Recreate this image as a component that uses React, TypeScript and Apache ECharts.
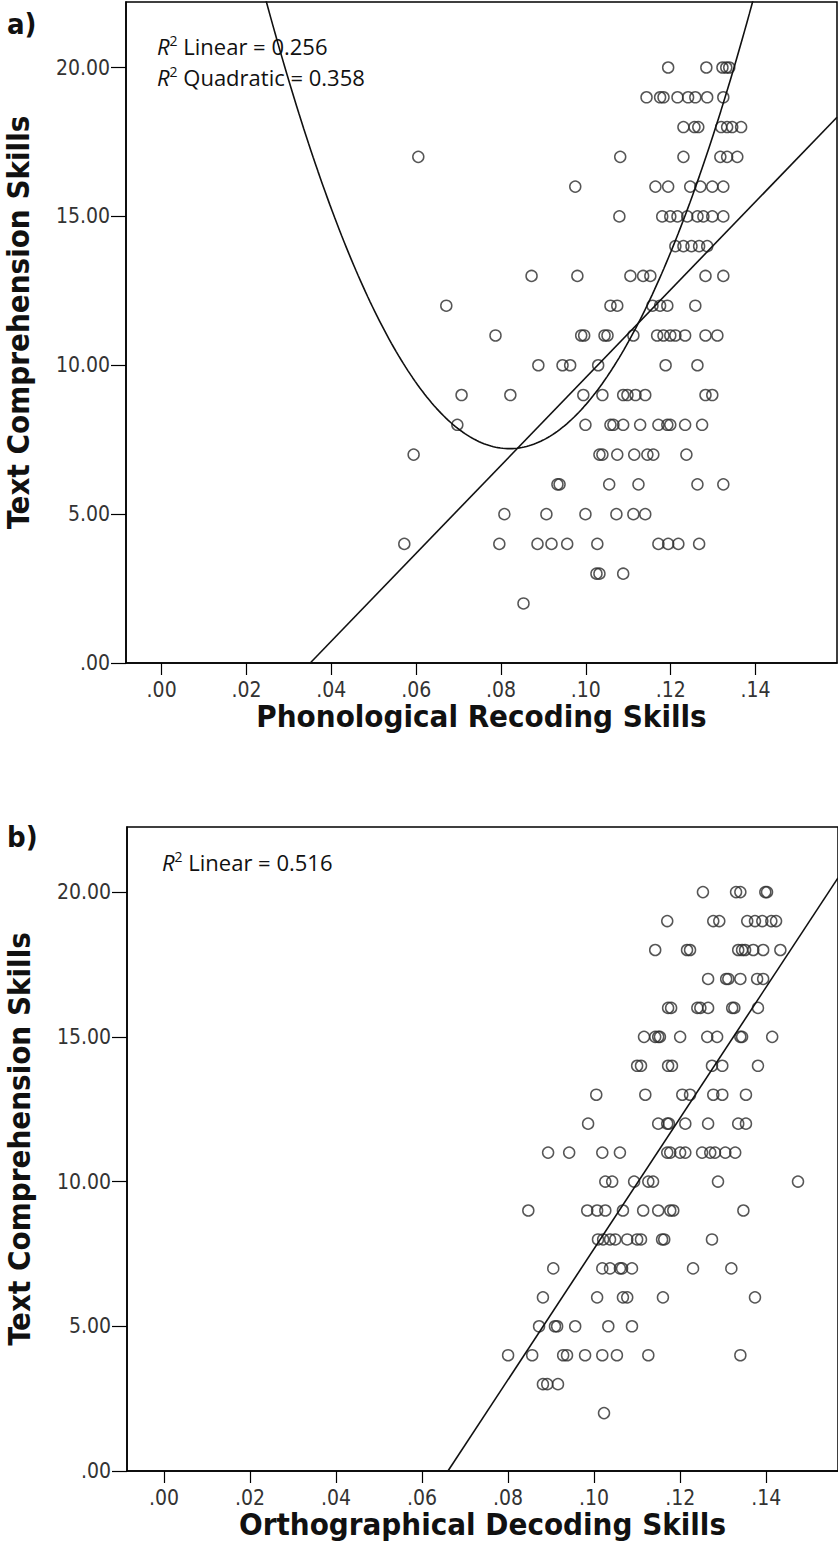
import React, { useEffect, useRef } from "react";
import * as echarts from "echarts";

const W = 838;
const H = 1557;

// Tick values and labels
const xTicks = [0, 0.02, 0.04, 0.06, 0.08, 0.1, 0.12, 0.14];
const yTicks = [0, 5, 10, 15, 20];

// Panel a) Phonological Recoding Skills vs Text Comprehension Skills, rows: [y, xs]
const phonRows: [number, number[]][] = [
  [20, [0.1194, 0.1284, 0.1322, 0.1331, 0.1338]],
  [19, [0.1143, 0.1175, 0.1183, 0.1216, 0.1241, 0.1258, 0.1286, 0.1324]],
  [18, [0.123, 0.1256, 0.1265, 0.1319, 0.1333, 0.1345, 0.1366]],
  [17, [0.0605, 0.1081, 0.123, 0.1317, 0.1333, 0.1357]],
  [16, [0.0975, 0.1164, 0.1194, 0.1246, 0.127, 0.1298, 0.1324]],
  [15, [0.1079, 0.118, 0.1199, 0.1216, 0.1239, 0.1263, 0.1277, 0.1298, 0.1324]],
  [14, [0.1211, 0.123, 0.1249, 0.1267, 0.1286]],
  [13, [0.0872, 0.098, 0.1105, 0.1135, 0.1152, 0.1282, 0.1324]],
  [12, [0.0671, 0.1058, 0.1074, 0.1157, 0.1175, 0.1192, 0.1258]],
  [11, [0.0787, 0.0989, 0.0996, 0.1044, 0.1051, 0.1112, 0.1168, 0.1183, 0.1199, 0.1211, 0.1234, 0.1282, 0.131]],
  [10, [0.0888, 0.0945, 0.0963, 0.1029, 0.1188, 0.1263]],
  [9, [0.0707, 0.0822, 0.0994, 0.1039, 0.1088, 0.1098, 0.1117, 0.114, 0.1282, 0.1298]],
  [8, [0.0697, 0.0999, 0.1058, 0.1065, 0.1088, 0.1128, 0.1171, 0.1192, 0.1199, 0.1234, 0.1274]],
  [7, [0.0594, 0.1032, 0.1039, 0.1074, 0.1114, 0.1145, 0.1159, 0.1237]],
  [6, [0.0933, 0.0938, 0.1055, 0.1124, 0.1263, 0.1324]],
  [5, [0.0808, 0.0907, 0.0999, 0.1072, 0.1112, 0.114]],
  [4, [0.0572, 0.0796, 0.0886, 0.0919, 0.0956, 0.1027, 0.1171, 0.1194, 0.1218, 0.1267]],
  [3, [0.1025, 0.1032, 0.1088]],
  [2, [0.0853]],
];

// Panel b) Orthographical Decoding Skills vs Text Comprehension Skills, rows: [y, xs]
const orthRows: [number, number[]][] = [
  [20, [0.1253, 0.133, 0.134, 0.1398, 0.1402]],
  [19, [0.117, 0.1277, 0.1291, 0.1356, 0.1374, 0.1391, 0.1412, 0.1423]],
  [18, [0.1142, 0.1216, 0.1223, 0.1335, 0.1344, 0.1351, 0.137, 0.1393, 0.1433]],
  [17, [0.1265, 0.1307, 0.1312, 0.134, 0.1379, 0.1393]],
  [16, [0.1172, 0.1179, 0.124, 0.1247, 0.1265, 0.1321, 0.1326, 0.1381]],
  [15, [0.1116, 0.1142, 0.1149, 0.1153, 0.12, 0.1263, 0.1286, 0.134, 0.1344, 0.1414]],
  [14, [0.11, 0.1109, 0.1172, 0.1181, 0.1274, 0.1298, 0.1381]],
  [13, [0.1005, 0.1119, 0.1205, 0.1223, 0.1277, 0.1298, 0.1353]],
  [12, [0.0986, 0.1149, 0.117, 0.1174, 0.1212, 0.1265, 0.1335, 0.1353]],
  [11, [0.0893, 0.0942, 0.1019, 0.106, 0.117, 0.1177, 0.12, 0.1212, 0.1251, 0.127, 0.1281, 0.1305, 0.1328]],
  [10, [0.1026, 0.1042, 0.1093, 0.1126, 0.1137, 0.1288, 0.1474]],
  [9, [0.0847, 0.0984, 0.1007, 0.1026, 0.1067, 0.1114, 0.1149, 0.1177, 0.1184, 0.1347]],
  [8, [0.1009, 0.1021, 0.1037, 0.1049, 0.1077, 0.11, 0.1109, 0.1158, 0.1163, 0.1274]],
  [7, [0.0905, 0.1019, 0.1037, 0.106, 0.1065, 0.1088, 0.123, 0.1319]],
  [6, [0.0881, 0.1007, 0.1067, 0.1077, 0.116, 0.1374]],
  [5, [0.0872, 0.0909, 0.0914, 0.0956, 0.1033, 0.1088]],
  [4, [0.08, 0.0856, 0.0928, 0.0937, 0.0979, 0.1019, 0.1053, 0.1126, 0.134]],
  [3, [0.0881, 0.0891, 0.0916]],
  [2, [0.1023]],
];

// Fit coefficients
const phonLinear = { intercept: -5.17, slope: 147.6 };
const phonQuad = { c0: 37.92, c1: -749.3, c2: 4569 };
const orthLinear = { intercept: -14.92, slope: 226 };

const phonR2Linear = "0.256";
const phonR2Quadratic = "0.358";
const orthR2Linear = "0.516";

// Axis ranges
const aX: [number, number] = [-0.0084, 0.1592];
const aY: [number, number] = [0, 22.2];
const bX: [number, number] = [-0.0086, 0.1567];
const bY: [number, number] = [0, 22.25];

const LABEL_FONT = "DejaVu Sans Condensed";
const TITLE_FONT = "DejaVu Sans Condensed";
const NOTE_FONT = "Open Sans";

function rowsToData(rows: [number, number[]][]) {
  const out: number[][] = [];
  rows.forEach(([y, xs]) => xs.forEach((x) => out.push([x, y])));
  return out;
}

function linearLine(fit: { intercept: number; slope: number }, xr: [number, number]) {
  const x0 = Math.max(xr[0], -fit.intercept / fit.slope);
  return [
    [x0, fit.intercept + fit.slope * x0],
    [xr[1], fit.intercept + fit.slope * xr[1]],
  ];
}

function quadLine(fit: { c0: number; c1: number; c2: number }, xr: [number, number]) {
  const out: number[][] = [];
  const n = 300;
  for (let i = 0; i <= n; i++) {
    const x = xr[0] + ((xr[1] - xr[0]) * i) / n;
    out.push([x, fit.c0 + fit.c1 * x + fit.c2 * x * x]);
  }
  return out;
}

const fmtX = (v: number) => v.toFixed(2).replace(/^0/, "");
const fmtY = (v: number) => (v === 0 ? ".00" : v.toFixed(2));

function makeX(gridIndex: number, r: [number, number], name: string) {
  return {
    type: "value",
    gridIndex,
    min: r[0],
    max: r[1],
    name,
    nameLocation: "middle",
    nameGap: 18,
    nameTextStyle: { fontFamily: TITLE_FONT, fontWeight: "bold", fontSize: 31, color: "#111" },
    axisLine: { show: true, onZero: false, lineStyle: { color: "#000", width: 1.5 } },
    axisTick: { show: true, length: 12, customValues: xTicks, lineStyle: { color: "#000", width: 1.2 } },
    axisLabel: {
      customValues: xTicks,
      formatter: fmtX,
      margin: 16,
      fontSize: 21,
      color: "#333",
      fontFamily: LABEL_FONT,
    },
    splitLine: { show: false },
  };
}

function makeY(gridIndex: number, r: [number, number], name: string) {
  return {
    type: "value",
    gridIndex,
    min: r[0],
    max: r[1],
    name,
    nameLocation: "middle",
    nameGap: 93,
    nameTextStyle: {
      fontFamily: TITLE_FONT,
      fontWeight: "bold",
      fontSize: 31,
      color: "#111",
      padding: [0, 0, 0, 20],
    },
    axisLine: { show: true, onZero: false, lineStyle: { color: "#000", width: 1.5 } },
    axisTick: { show: true, length: 15, customValues: yTicks, lineStyle: { color: "#000", width: 1.2 } },
    axisLabel: {
      customValues: yTicks,
      formatter: fmtY,
      margin: 16,
      fontSize: 21,
      color: "#333",
      fontFamily: LABEL_FONT,
    },
    splitLine: { show: false },
  };
}

const scatterStyle = {
  type: "scatter",
  symbol: "circle",
  symbolSize: 11,
  itemStyle: { color: "rgba(255,255,255,0)", borderColor: "#2c2c2c", borderWidth: 1.5 },
  emphasis: { disabled: true },
};

const fitStyle = {
  type: "line",
  showSymbol: false,
  symbol: "none",
  clip: true,
  lineStyle: { color: "#111", width: 1.6 },
  emphasis: { disabled: true },
};

export default function App() {
  const ref = useRef<HTMLDivElement>(null);

  useEffect(() => {
    if (!ref.current) return;
    const chart = echarts.init(ref.current, undefined, { renderer: "svg", width: W, height: H });
    const noteStyle = (text: string) => ({
      text,
      fontFamily: NOTE_FONT,
      fontSize: 22,
      lineHeight: 26,
      fill: "#111",
      rich: {
        r: { fontStyle: "italic", fontFamily: NOTE_FONT, fontSize: 22, lineHeight: 26, fill: "#111" },
        s: { fontFamily: NOTE_FONT, fontSize: 14, lineHeight: 14, verticalAlign: "top", fill: "#111" },
        t: { fontFamily: NOTE_FONT, fontSize: 22, lineHeight: 26, fill: "#111" },
      },
    });
    chart.setOption({
      animation: false,
      backgroundColor: "#fff",
      grid: [
        {
          left: 126, top: 2, width: 711, height: 661,
          show: true, borderColor: "#000", borderWidth: 1.5,
          containLabel: false, outerBoundsMode: "none",
        },
        {
          left: 127, top: 827, width: 711, height: 644,
          show: true, borderColor: "#000", borderWidth: 1.5,
          containLabel: false, outerBoundsMode: "none",
        },
      ],
      xAxis: [
        makeX(0, aX, "Phonological Recoding Skills"),
        makeX(1, bX, "Orthographical Decoding Skills"),
      ],
      yAxis: [
        makeY(0, aY, "Text Comprehension Skills"),
        makeY(1, bY, "Text Comprehension Skills"),
      ],
      series: [
        { ...scatterStyle, xAxisIndex: 0, yAxisIndex: 0, data: rowsToData(phonRows) },
        { ...fitStyle, xAxisIndex: 0, yAxisIndex: 0, data: linearLine(phonLinear, aX) },
        { ...fitStyle, xAxisIndex: 0, yAxisIndex: 0, data: quadLine(phonQuad, aX) },
        { ...scatterStyle, xAxisIndex: 1, yAxisIndex: 1, data: rowsToData(orthRows) },
        { ...fitStyle, xAxisIndex: 1, yAxisIndex: 1, data: linearLine(orthLinear, bX) },
      ],
      graphic: [
        { type: "text", left: 7, top: 9, style: { text: "a)", fontFamily: TITLE_FONT, fontWeight: "bold", fontSize: 29, fill: "#111" } },
        { type: "text", left: 7, top: 822, style: { text: "b)", fontFamily: TITLE_FONT, fontWeight: "bold", fontSize: 29, fill: "#111" } },
        { type: "text", left: 157, top: 33, style: noteStyle(`{r|R}{s|2}{t| Linear = ${phonR2Linear}}`) },
        { type: "text", left: 157, top: 64, style: noteStyle(`{r|R}{s|2}{t| Quadratic = ${phonR2Quadratic}}`) },
        { type: "text", left: 162, top: 849, style: noteStyle(`{r|R}{s|2}{t| Linear = ${orthR2Linear}}`) },
      ],
    });
    return () => chart.dispose();
  }, []);

  return (
    <div
      ref={ref}
      style={{ position: "absolute", left: 0, top: 0, width: W, height: H, background: "#fff" }}
    />
  );
}
